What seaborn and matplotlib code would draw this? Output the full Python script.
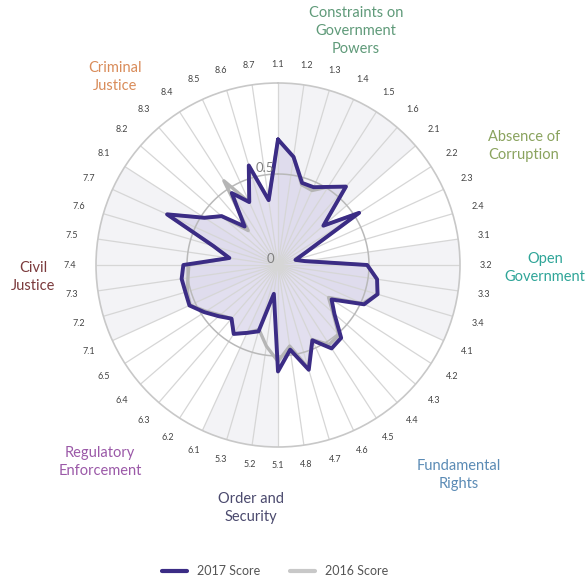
import matplotlib

matplotlib.use("Agg")
import matplotlib.pyplot as plt
import numpy as np
import pandas as pd
import seaborn as sns
from matplotlib.lines import Line2D

sns.set_theme(style="white")
plt.rcParams["font.family"] = ["Lato", "DejaVu Sans"]

# sub-factor codes, grouped by factor
factor_names = [
    "Constraints on\nGovernment\nPowers",
    "Absence of\nCorruption",
    "Open\nGovernment",
    "Fundamental\nRights",
    "Order and\nSecurity",
    "Regulatory\nEnforcement",
    "Civil\nJustice",
    "Criminal\nJustice",
]
factor_sizes = [6, 4, 4, 8, 3, 5, 7, 7]
factor_colors = [
    "#5f9a79", "#8aa35e", "#2fa598", "#5b8bb5",
    "#4b4a6e", "#9b59a8", "#7b3a3c", "#d98c5a",
]
codes = [f"{f + 1}.{k + 1}" for f, n in enumerate(factor_sizes) for k in range(n)]

score_2017 = [
    0.69, 0.60, 0.47, 0.47, 0.51, 0.57,
    0.33, 0.53, 0.17, 0.10,
    0.15, 0.49, 0.55, 0.57,
    0.52, 0.35, 0.41, 0.53, 0.545, 0.455, 0.60, 0.47,
    0.585, 0.16, 0.38,
    0.41, 0.45, 0.39, 0.43, 0.48,
    0.535, 0.53, 0.535, 0.52, 0.27, 0.37, 0.67,
    0.48, 0.41, 0.28, 0.47, 0.38, 0.57, 0.36,
]
score_2016 = [
    0.69, 0.60, 0.46, 0.45, 0.51, 0.57,
    0.33, 0.53, 0.17, 0.10,
    0.15, 0.49, 0.55, 0.57,
    0.51, 0.33, 0.40, 0.51, 0.52, 0.45, 0.59, 0.45,
    0.53, 0.45, 0.37,
    0.41, 0.45, 0.39, 0.42, 0.47,
    0.53, 0.52, 0.50, 0.49, 0.27, 0.37, 0.67,
    0.48, 0.41, 0.25, 0.55, 0.38, 0.57, 0.36,
]

n = len(codes)
step = 2 * np.pi / n
theta = np.arange(n) * step

rows = []
for year, vals in (("2016 Score", score_2016), ("2017 Score", score_2017)):
    for t, v in zip(list(theta) + [theta[0]], list(vals) + [vals[0]]):
        rows.append({"theta": t, "score": v, "year": year})
df = pd.DataFrame(rows)

W, H = 588, 585
fig = plt.figure(figsize=(W / 100, H / 100), dpi=100)
cx, cy, R = 278, 265, 182
ax = fig.add_axes(
    [(cx - R) / W, (H - cy - R) / H, 2 * R / W, 2 * R / H], projection="polar"
)
ax.set_theta_zero_location("N")
ax.set_theta_direction(-1)
ax.set_ylim(0, 1)
ax.grid(False)
ax.spines["polar"].set_color("#c8c8c8")
ax.spines["polar"].set_linewidth(1.2)

# shaded sectors for every other factor
start = 0
for f, size in enumerate(factor_sizes):
    if f % 2 == 0:
        ax.bar(start * step, 1, width=size * step, align="edge",
               color="#f3f3f6", edgecolor="none", zorder=0)
    start += size

# fill of the 2017 polygon
d17 = df[df["year"] == "2017 Score"]
ax.fill(d17["theta"], d17["score"], color="#d9d5ea", alpha=0.75, zorder=1, lw=0)

# radial spokes and inner ring
ax.vlines(theta, 0, 1, color="#d6d6d6", lw=0.9, zorder=2)
ring = np.linspace(0, 2 * np.pi, 400)
ax.plot(ring, np.full_like(ring, 0.5), color="#b9b9b9", lw=1.1, zorder=2)

sns.lineplot(data=df[df["year"] == "2016 Score"], x="theta", y="score",
             sort=False, estimator=None, color="#b5b5b5", lw=2.4, ax=ax,
             zorder=3)
sns.lineplot(data=d17, x="theta", y="score", sort=False, estimator=None,
             color="#3b2c85", lw=2.8, ax=ax, zorder=4)
ax.set_xlabel("")
ax.set_ylabel("")
ax.set_xticks([])
ax.set_yticks([])
ax.set_ylim(0, 1)

# radial value labels
ax.text(-0.04, 0.5, "0.5", ha="right", va="bottom", fontsize=9.5,
        color="#808080", zorder=5)
ax.text(np.pi * 1.5, 0.02, "0", ha="right", va="bottom", fontsize=9.5,
        color="#808080", zorder=5)

# sub-factor labels
for t, c in zip(theta, codes):
    r = 1.1 + 0.045 * abs(np.sin(t))
    ax.text(t, r, c, ha="center", va="center", fontsize=6.5, color="#444444")

# factor labels
factor_pos = [(356, 31), (524, 146), (545, 268), (459, 475),
              (251, 508), (100, 462), (33, 277), (115, 77)]
for name, col, (px, py) in zip(factor_names, factor_colors, factor_pos):
    fig.text(px / W, 1 - py / H, name, ha="center", va="center",
             fontsize=10.5, color=col, linespacing=1.35)

handles = [
    Line2D([], [], color="#3b2c85", lw=3),
    Line2D([], [], color="#c8c8c8", lw=3),
]
fig.legend(handles, ["2017 Score", "2016 Score"], loc="center",
           bbox_to_anchor=(275 / W, 1 - 571 / H), ncol=2, frameon=False,
           fontsize=9, handlelength=2.0, columnspacing=2.4,
           labelcolor="#555555")

fig.savefig("out.png", dpi=100)
